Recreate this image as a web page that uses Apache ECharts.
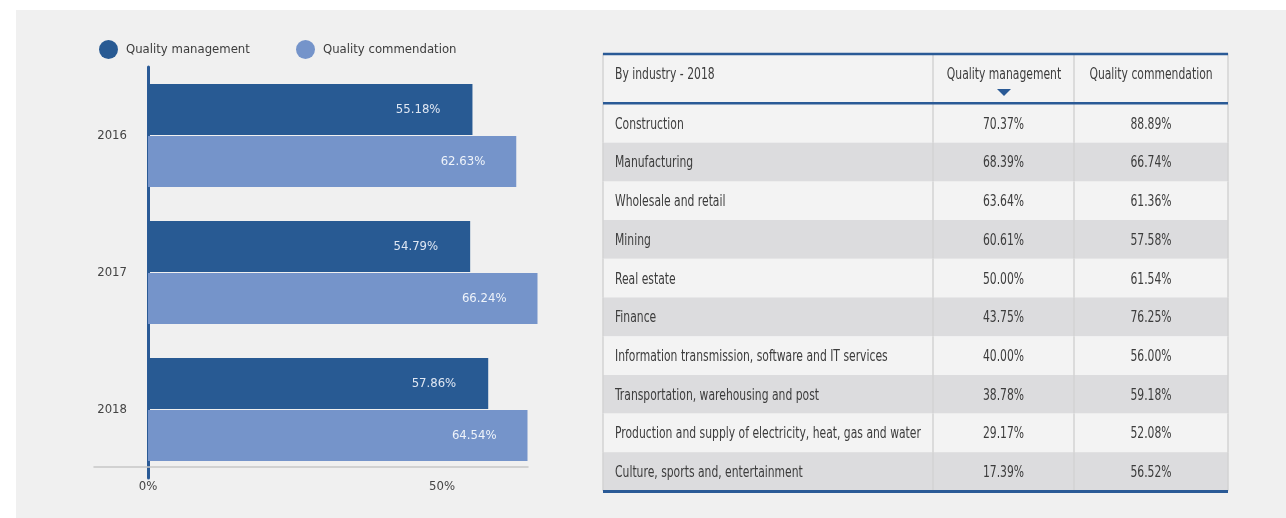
<!DOCTYPE html>
<html>
<head>
<meta charset="utf-8">
<script src="https://cdn.jsdelivr.net/npm/echarts@6/dist/echarts.min.js"></script>
<style>
  html, body { margin: 0; padding: 0; background: #fff; }
  #panel { position: absolute; left: 16px; top: 10px; right: 0; bottom: 0; background: #f0f0f0; }
  #main { position: absolute; left: 0; top: 0; width: 1286px; height: 518px; }
</style>
</head>
<body>
<div id="panel"></div>
<div id="main"></div>
<script>
var FONT = "'DejaVu Sans Condensed', 'Liberation Sans Narrow', sans-serif";

// bar chart data
var years = ['2016', '2017', '2018'];
var qualityManagement = [55.18, 54.79, 57.86];
var qualityCommendation = [62.63, 66.24, 64.54];

// table data (by industry - 2018)
var industries = [
    'Construction',
    'Manufacturing',
    'Wholesale and retail',
    'Mining',
    'Real estate',
    'Finance',
    'Information transmission, software and IT services',
    'Transportation, warehousing and post',
    'Production and supply of electricity, heat, gas and water',
    'Culture, sports and, entertainment'
];
var industryManagement = [70.37, 68.39, 63.64, 60.61, 50.00, 43.75, 40.00, 38.78, 29.17, 17.39];
var industryCommendation = [88.89, 66.74, 61.36, 57.58, 61.54, 76.25, 56.00, 59.18, 52.08, 56.52];

var DARK = '#285a93';
var LIGHT = '#7594ca';
var BLUE_LINE = '#2a5a96';
var GRID_LINE = '#d3d3d3';
var TEXT = '#3c3c3c';
var SQUEEZE = 0.8;    // narrow the table text to look condensed
var SMALL = 13;       // font size for chart texts

// table column edges as fractions of the table width
var colEdges = [0, 330 / 625, 471 / 625, 1];

var chart = echarts.init(document.getElementById('main'));

function pct(v) { return v.toFixed(2) + '%'; }

function cellText(text, x, y, align) {
    return {
        type: 'text', x: x, y: y + 1.5, scaleX: SQUEEZE,
        style: { text: text, x: 0, y: 0, fill: TEXT, font: '15px ' + FONT,
                 textAlign: align, textVerticalAlign: 'middle' }
    };
}

function renderRow(params, api) {
    var i = api.value(0);
    var cs = params.coordSys;
    var yc = api.coord([0, i])[1];
    var h = api.size([0, 1])[1];
    var top = yc - h / 2;
    var x0 = cs.x, w = cs.width;
    var xs = colEdges.map(function (f) { return x0 + f * w; });
    var bg = i % 2 === 0 ? '#f3f3f3' : '#dcdcde';
    var children = [
        { type: 'rect', shape: { x: x0, y: top, width: w, height: h }, style: { fill: bg } }
    ];
    xs.forEach(function (x) {
        children.push({ type: 'line', shape: { x1: x, y1: top, x2: x, y2: top + h },
            style: { stroke: GRID_LINE, lineWidth: 1.5 } });
    });
    children.push(cellText(industries[i], xs[0] + 12, yc, 'left'));
    children.push(cellText(pct(api.value(1)), (xs[1] + xs[2]) / 2, yc, 'center'));
    children.push(cellText(pct(api.value(2)), (xs[2] + xs[3]) / 2, yc, 'center'));
    return { type: 'group', children: children };
}

var tableRows = industries.map(function (n, i) {
    return [i, industryManagement[i], industryCommendation[i]];
});

function headerText(text, x, align) {
    return { type: 'text', x: x, y: 75, scaleX: SQUEEZE, z: 3,
        style: { text: text, x: 0, y: 0, fill: TEXT, font: '15px ' + FONT,
                 textAlign: align, textVerticalAlign: 'middle' } };
}

var legendBase = {
    top: 40, padding: 0, icon: 'circle', itemWidth: 19, itemHeight: 19,
    textStyle: { fontSize: SMALL, color: TEXT, padding: [0, 0, 0, 3] }
};

var option = {
    animation: false,
    textStyle: { fontFamily: FONT },
    legend: [
        Object.assign({ left: 99, data: ['Quality management'] }, legendBase),
        Object.assign({ left: 296, data: ['Quality commendation'] }, legendBase)
    ],
    grid: [
        { left: 148, top: 67, width: 588, bottom: 40 },
        { left: 94, top: 67, width: 434, bottom: 51 },
        { left: 603, right: 58, top: 104, bottom: 27 }
    ],
    xAxis: [
        {
            gridIndex: 0, type: 'value', min: 0, max: 100, interval: 50,
            axisLine: { show: false }, axisTick: { show: false }, splitLine: { show: false },
            axisLabel: {
                color: '#444', fontSize: SMALL, margin: 2,
                formatter: function (v) { return v === 100 ? '' : v + '%'; }
            }
        },
        {
            gridIndex: 1, type: 'value', min: 0, max: 1,
            axisLine: { show: true, lineStyle: { color: '#c6c6c6', width: 1.5 } },
            axisTick: { show: false }, axisLabel: { show: false }, splitLine: { show: false }
        },
        { gridIndex: 2, type: 'value', min: 0, max: 1, show: false }
    ],
    yAxis: [
        {
            gridIndex: 0, type: 'category', data: years, inverse: true,
            axisLine: { lineStyle: { color: BLUE_LINE, width: 3 } },
            axisTick: { show: false },
            axisLabel: { color: '#444', fontSize: SMALL, margin: 21 }
        },
        { gridIndex: 1, type: 'value', show: false },
        { gridIndex: 2, type: 'category', data: industries, inverse: true, show: false }
    ],
    series: [
        {
            name: 'Quality management', type: 'bar',
            xAxisIndex: 0, yAxisIndex: 0,
            data: qualityManagement,
            barWidth: 51, barGap: '2%',
            itemStyle: { color: DARK },
            label: {
                show: true, position: 'insideRight', distance: 32,
                color: '#dfe7f3', fontSize: SMALL, formatter: function (p) { return pct(p.value); }
            }
        },
        {
            name: 'Quality commendation', type: 'bar',
            xAxisIndex: 0, yAxisIndex: 0,
            data: qualityCommendation,
            barWidth: 51,
            itemStyle: { color: LIGHT },
            label: {
                show: true, position: 'insideRight', distance: 31,
                color: '#eef3fa', fontSize: SMALL, formatter: function (p) { return pct(p.value); }
            }
        },
        {
            type: 'custom', name: 'table',
            xAxisIndex: 2, yAxisIndex: 2,
            data: tableRows,
            encode: { y: 0 },
            renderItem: renderRow,
            silent: true
        }
    ],
    graphic: [
        // table header
        { type: 'rect', shape: { x: 603, y: 54, width: 625, height: 49 }, style: { fill: '#f3f3f3', stroke: GRID_LINE, lineWidth: 1.5 }, z: 1 },
        { type: 'line', shape: { x1: 933, y1: 54, x2: 933, y2: 103 }, style: { stroke: GRID_LINE, lineWidth: 1.5 }, z: 2 },
        { type: 'line', shape: { x1: 1074, y1: 54, x2: 1074, y2: 103 }, style: { stroke: GRID_LINE, lineWidth: 1.5 }, z: 2 },
        headerText('By industry - 2018', 615, 'left'),
        headerText('Quality management', 1004, 'center'),
        headerText('Quality commendation', 1151, 'center'),
        { type: 'polygon', shape: { points: [[997, 89], [1011, 89], [1004, 96]] }, style: { fill: BLUE_LINE }, z: 3 },
        { type: 'line', shape: { x1: 603, y1: 54, x2: 1228, y2: 54 }, style: { stroke: BLUE_LINE, lineWidth: 2.5 }, z: 20 },
        { type: 'line', shape: { x1: 603, y1: 103.3, x2: 1228, y2: 103.3 }, style: { stroke: BLUE_LINE, lineWidth: 2.5 }, z: 20 },
        { type: 'line', shape: { x1: 603, y1: 491.5, x2: 1228, y2: 491.5 }, style: { stroke: BLUE_LINE, lineWidth: 3 }, z: 20 }
    ]
};

chart.setOption(option);
</script>
</body>
</html>
